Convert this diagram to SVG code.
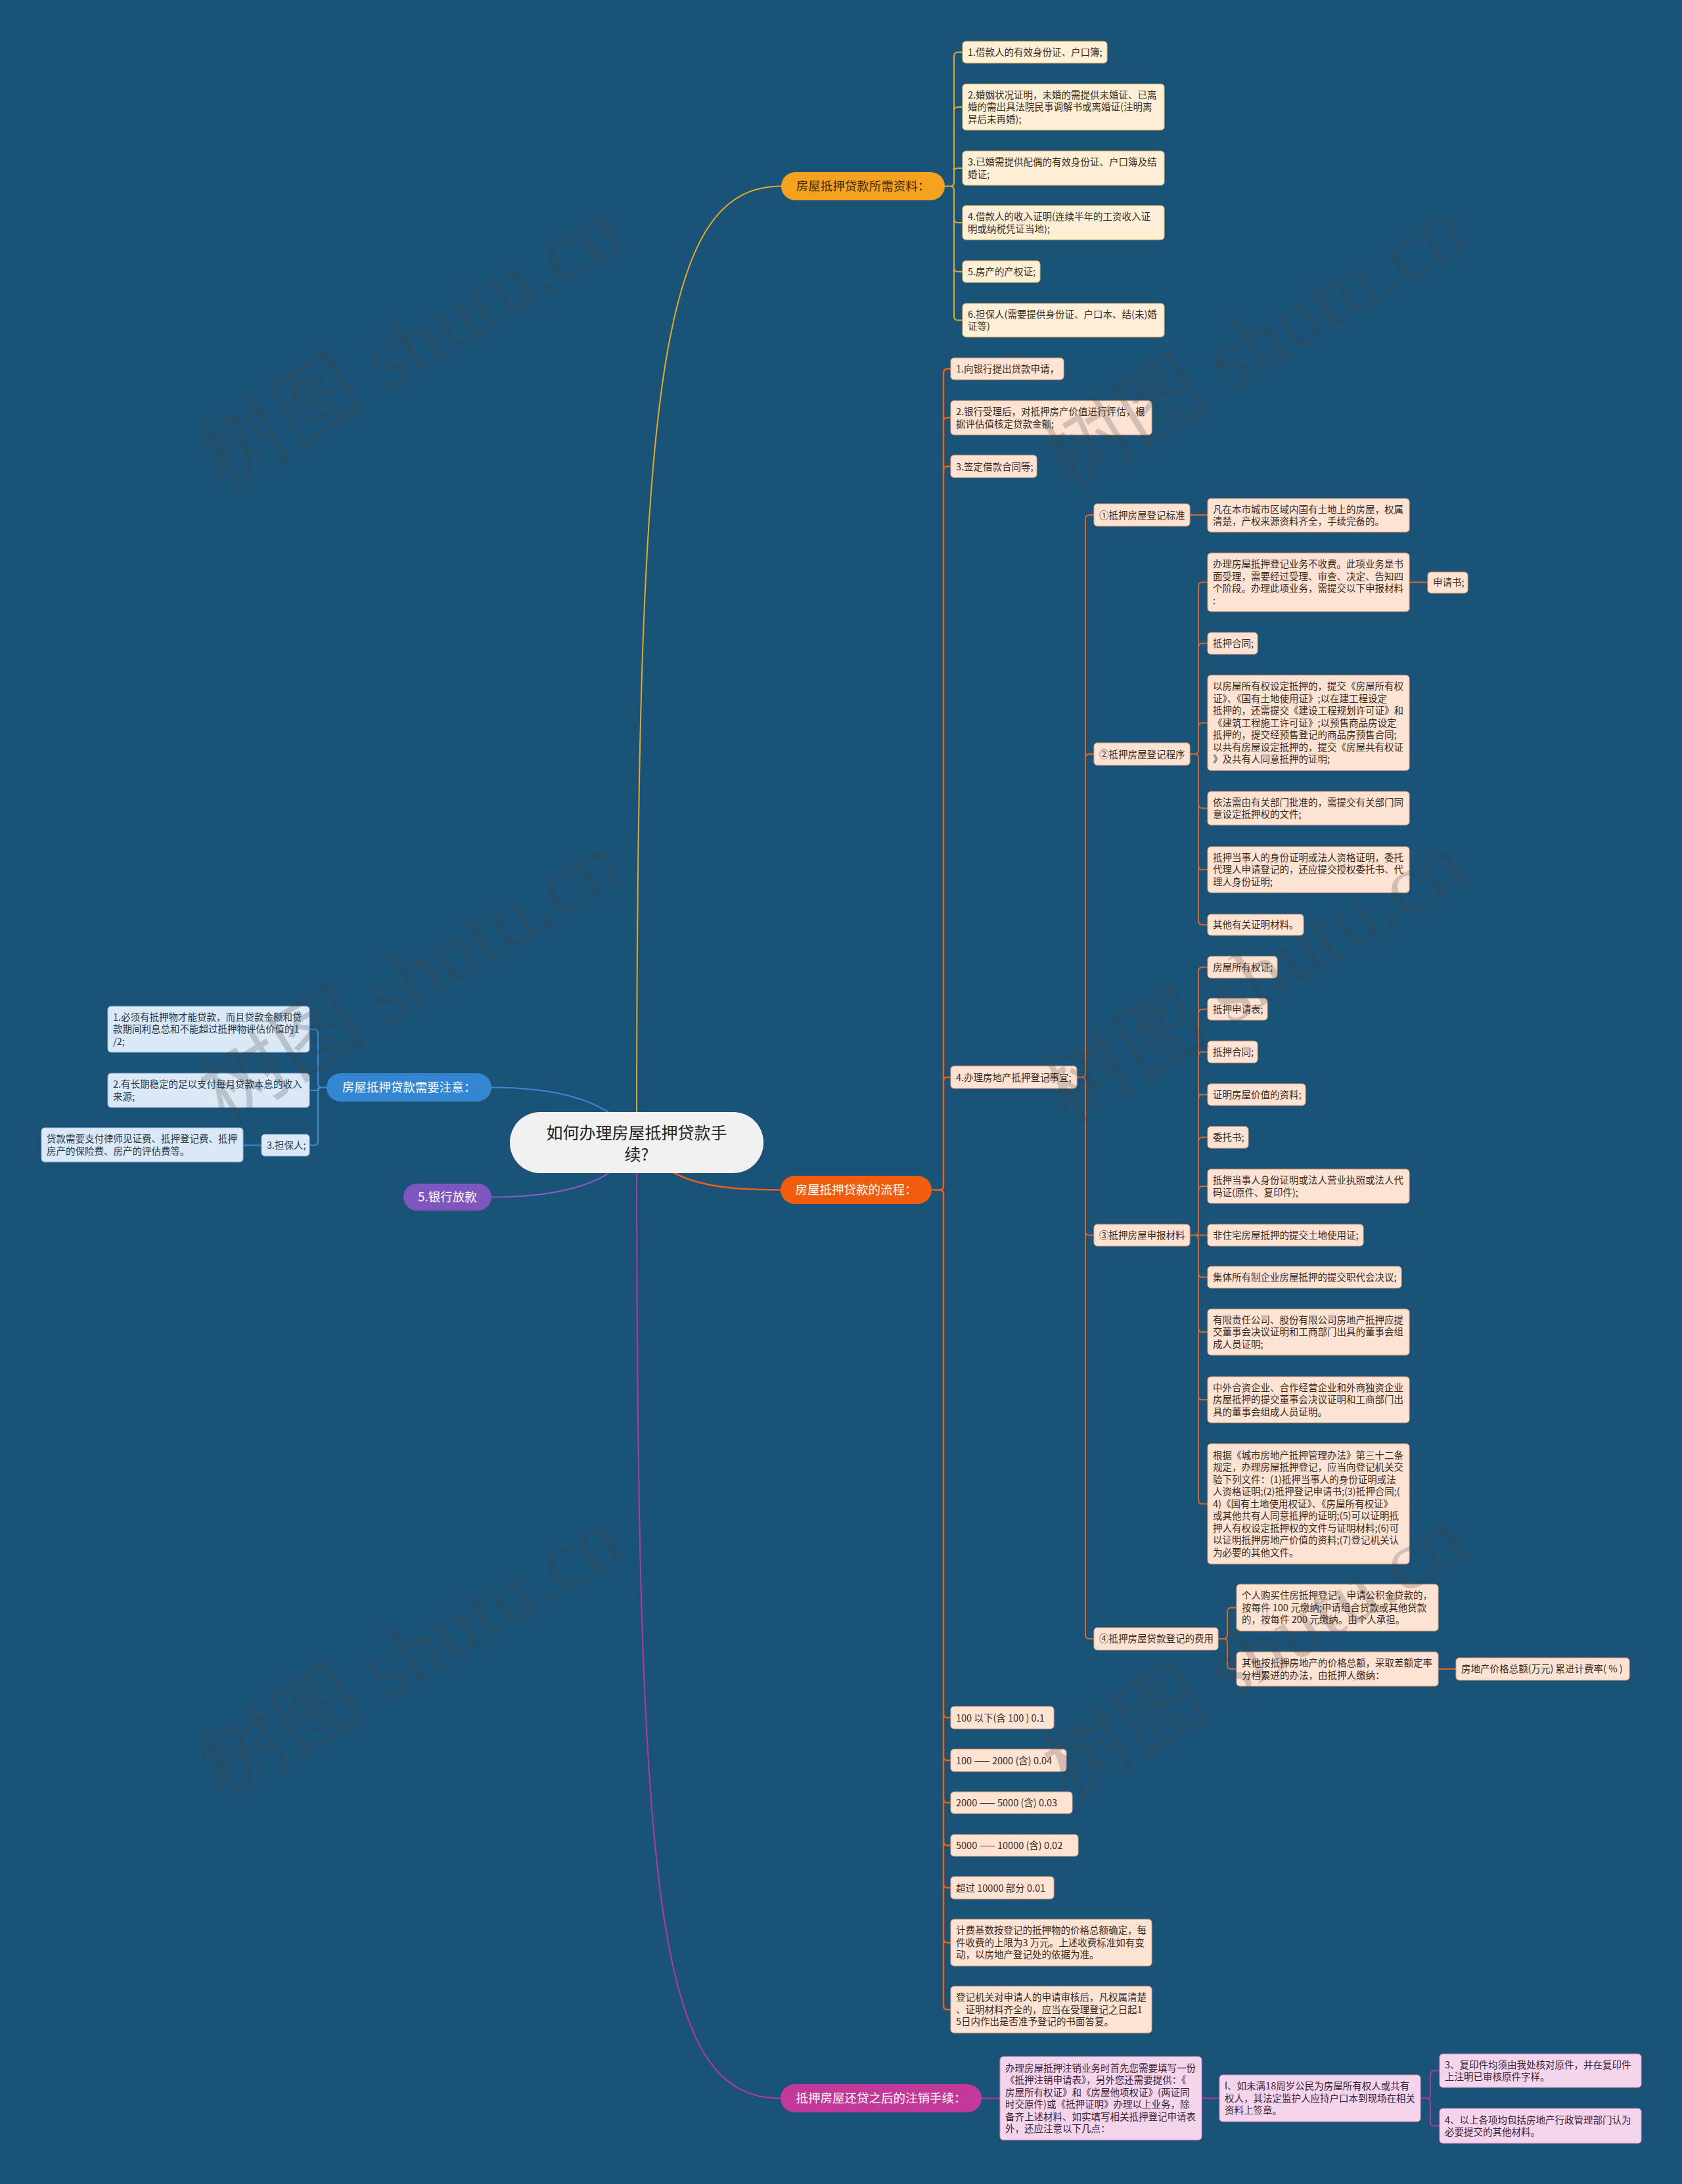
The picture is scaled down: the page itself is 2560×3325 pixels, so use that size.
<svg xmlns="http://www.w3.org/2000/svg" width="2560" height="3325" viewBox="0 0 2560 3325">
<style>
text{font-family:"Noto Sans CJK SC","Noto Sans",sans-serif}
.t{font-size:14.5px;fill:#3b2a1e}
.tb{font-size:14.5px;fill:#22384d}
.tp{font-size:14.5px;fill:#3a2238}
.n1{fill:#fdf0d6;stroke:#e8b95e;stroke-width:1}
.n2{fill:#fde3d3;stroke:#e8a27a;stroke-width:1}
.n3{fill:#dbe8f5;stroke:#8db5dc;stroke-width:1}
.n5{fill:#f5d5ec;stroke:#d48cc2;stroke-width:1}
.br{font-size:18.5px;fill:#ffffff;text-anchor:middle}
.c1{fill:none;stroke:#e2a92c;stroke-width:2}
.c2{fill:none;stroke:#ee6014;stroke-width:2.5}
.c2b{fill:none;stroke:#d9672b;stroke-width:2}
.c3{fill:none;stroke:#3a8ad6;stroke-width:2}
.c4{fill:none;stroke:#8a5cc8;stroke-width:2}
.c5{fill:none;stroke:#b5399a;stroke-width:2}
.wm{font-family:"Liberation Serif","Noto Sans CJK SC",serif;font-size:128px;fill:#404040;opacity:.22;text-anchor:middle}
</style>
<rect x="0" y="0" width="2560" height="3325" fill="#1a5377"/>
<g id="connectors">
<path class="c1" d="M969 1740C969 600 1000 283.5 1189 283.5"/>
<path class="c5" d="M969 1740C969 2900 1000 3194.5 1188 3194.5"/>
<path class="c2" d="M969 1740C1020 1800 1080 1811.5 1188 1811.5"/>
<path class="c3" d="M748 1655.5C860 1655.5 930 1680 965 1730"/>
<path class="c4" d="M748 1822.5C860 1822.5 930 1800 965 1750"/>
<path class="c1" d="M1438 283.5H1446Q1452 283.5 1452 277.5V85.5Q1452 79.5 1458 79.5H1465M1438 283.5H1446Q1452 283.5 1452 277.5V169Q1452 163 1458 163H1465M1438 283.5H1446Q1452 283.5 1452 277.5V262Q1452 256 1458 256H1465M1438 283.5H1446Q1452 283.5 1452 289.5V333Q1452 339 1458 339H1465M1438 283.5H1446Q1452 283.5 1452 289.5V407.5Q1452 413.5 1458 413.5H1465M1438 283.5H1446Q1452 283.5 1452 289.5V481.5Q1452 487.5 1458 487.5H1465"/>
<path class="c2" d="M1418 1811.5H1430Q1436 1811.5 1436 1805.5V567.5Q1436 561.5 1442 561.5H1447M1418 1811.5H1430Q1436 1811.5 1436 1805.5V642Q1436 636 1442 636H1447M1418 1811.5H1430Q1436 1811.5 1436 1805.5V716Q1436 710 1442 710H1447M1418 1811.5H1430Q1436 1811.5 1436 1805.5V1646Q1436 1640 1442 1640H1447M1418 1811.5H1430Q1436 1811.5 1436 1817.5V2609Q1436 2615 1442 2615H1447M1418 1811.5H1430Q1436 1811.5 1436 1817.5V2674Q1436 2680 1442 2680H1447M1418 1811.5H1430Q1436 1811.5 1436 1817.5V2738.5Q1436 2744.5 1442 2744.5H1447M1418 1811.5H1430Q1436 1811.5 1436 1817.5V2803.5Q1436 2809.5 1442 2809.5H1447M1418 1811.5H1430Q1436 1811.5 1436 1817.5V2868Q1436 2874 1442 2874H1447M1418 1811.5H1430Q1436 1811.5 1436 1817.5V2951.5Q1436 2957.5 1442 2957.5H1447M1418 1811.5H1430Q1436 1811.5 1436 1817.5V3053.5Q1436 3059.5 1442 3059.5H1447"/>
<path class="c2b" d="M1639 1640H1646Q1652 1640 1652 1634V790Q1652 784 1658 784H1665M1639 1640H1646Q1652 1640 1652 1634V1154Q1652 1148 1658 1148H1665M1639 1640H1646Q1652 1640 1652 1646V1874.5Q1652 1880.5 1658 1880.5H1665M1639 1640H1646Q1652 1640 1652 1646V2489Q1652 2495 1658 2495H1665"/>
<path class="c2b" d="M1811 1148H1818Q1824 1148 1824 1142V892.5Q1824 886.5 1830 886.5H1838M1811 1148H1818Q1824 1148 1824 1142V985.5Q1824 979.5 1830 979.5H1838M1811 1148H1818Q1824 1148 1824 1142V1106.5Q1824 1100.5 1830 1100.5H1838M1811 1148H1818Q1824 1148 1824 1154V1224.5Q1824 1230.5 1830 1230.5H1838M1811 1148H1818Q1824 1148 1824 1154V1318Q1824 1324 1830 1324H1838M1811 1148H1818Q1824 1148 1824 1154V1402Q1824 1408 1830 1408H1838"/>
<path class="c2b" d="M1811 1880.5H1818Q1824 1880.5 1824 1874.5V1478.5Q1824 1472.5 1830 1472.5H1838M1811 1880.5H1818Q1824 1880.5 1824 1874.5V1542.5Q1824 1536.5 1830 1536.5H1838M1811 1880.5H1818Q1824 1880.5 1824 1874.5V1607.5Q1824 1601.5 1830 1601.5H1838M1811 1880.5H1818Q1824 1880.5 1824 1874.5V1672.5Q1824 1666.5 1830 1666.5H1838M1811 1880.5H1818Q1824 1880.5 1824 1874.5V1737.5Q1824 1731.5 1830 1731.5H1838M1811 1880.5H1818Q1824 1880.5 1824 1874.5V1812Q1824 1806 1830 1806H1838M1811 1880.5H1838M1811 1880.5H1818Q1824 1880.5 1824 1886.5V1938.5Q1824 1944.5 1830 1944.5H1838M1811 1880.5H1818Q1824 1880.5 1824 1886.5V2022Q1824 2028 1830 2028H1838M1811 1880.5H1818Q1824 1880.5 1824 1886.5V2125Q1824 2131 1830 2131H1838M1811 1880.5H1818Q1824 1880.5 1824 1886.5V2283.5Q1824 2289.5 1830 2289.5H1838"/>
<path class="c2b" d="M1854 2495H1862Q1868 2495 1868 2489V2453.5Q1868 2447.5 1874 2447.5H1882M1854 2495H1862Q1868 2495 1868 2501V2535Q1868 2541 1874 2541H1882"/>
<path class="c2b" d="M1811 784H1838M2145 886.5H2173M2189 2541H2216"/>
<path class="c3" d="M497 1655.5H490Q484 1655.5 484 1649.5V1573Q484 1567 478 1567H471M497 1655.5H486Q484 1655.5 484 1657.5V1658Q484 1660 482 1660H471M497 1655.5H490Q484 1655.5 484 1661.5V1737.5Q484 1743.5 478 1743.5H471M398 1743.5H370"/>
<path class="c5" d="M1494 3194.5H1522M1829 3194.5H1856M2162 3194.5H2171Q2177 3194.5 2177 3188.5V3158.5Q2177 3152.5 2183 3152.5H2191M2162 3194.5H2171Q2177 3194.5 2177 3200.5V3230.5Q2177 3236.5 2183 3236.5H2191"/>
</g>

<g id="root">
<rect x="776" y="1693" width="386" height="93" rx="46" fill="#f1f1f1"/>
<text x="969" y="1734" font-size="25" fill="#222" text-anchor="middle"><tspan x="969">如何办理房屋抵押贷款手</tspan><tspan x="969" dy="33">续?</tspan></text>
</g>

<g id="branch-materials">
<rect x="1189" y="262" width="249" height="43" rx="21.5" fill="#f5a31f"/>
<text class="br" x="1313.5" y="290" style="fill:#3b2a10">房屋抵押贷款所需资料：</text>
</g>
<g id="m1"><rect class="n1" x="1465" y="63" width="220" height="33" rx="5"/><text class="t" x="1473" y="84.7">1.借款人的有效身份证、户口簿;</text></g>
<g id="m2"><rect class="n1" x="1465" y="128" width="307" height="70" rx="5"/><text class="t" x="1473" y="149.7"><tspan x="1473">2.婚姻状况证明，未婚的需提供未婚证、已离</tspan><tspan x="1473" dy="18.5">婚的需出具法院民事调解书或离婚证(注明离</tspan><tspan x="1473" dy="18.5">异后未再婚);</tspan></text></g>
<g id="m3"><rect class="n1" x="1465" y="230" width="307" height="52" rx="5"/><text class="t" x="1473" y="252"><tspan x="1473">3.已婚需提供配偶的有效身份证、户口簿及结</tspan><tspan x="1473" dy="18.5">婚证;</tspan></text></g>
<g id="m4"><rect class="n1" x="1465" y="313" width="307" height="52" rx="5"/><text class="t" x="1473" y="335"><tspan x="1473">4.借款人的收入证明(连续半年的工资收入证</tspan><tspan x="1473" dy="18.5">明或纳税凭证当地);</tspan></text></g>
<g id="m5"><rect class="n1" x="1465" y="397" width="118" height="33" rx="5"/><text class="t" x="1473" y="418.7">5.房产的产权证;</text></g>
<g id="m6"><rect class="n1" x="1465" y="462" width="307" height="51" rx="5"/><text class="t" x="1473" y="483.5"><tspan x="1473">6.担保人(需要提供身份证、户口本、结(未)婚</tspan><tspan x="1473" dy="18.5">证等)</tspan></text></g>

<g id="branch-process">
<rect x="1188" y="1790" width="230" height="43" rx="21.5" fill="#f25c0d"/>
<text class="br" x="1303" y="1818">房屋抵押贷款的流程：</text>
</g>
<g id="p1"><rect class="n2" x="1447" y="545" width="172" height="33" rx="5"/><text class="t" x="1455" y="566.7">1.向银行提出贷款申请，</text></g>
<g id="p2"><rect class="n2" x="1447" y="610" width="306" height="52" rx="5"/><text class="t" x="1455" y="632"><tspan x="1455">2.银行受理后，对抵押房产价值进行评估，根</tspan><tspan x="1455" dy="18.5">据评估值核定贷款金额;</tspan></text></g>
<g id="p3"><rect class="n2" x="1447" y="693" width="131" height="34" rx="5"/><text class="t" x="1455" y="715.7">3.签定借款合同等;</text></g>
<g id="p4"><rect class="n2" x="1447" y="1623" width="192" height="34" rx="5"/><text class="t" x="1455" y="1645.7">4.办理房地产抵押登记事宜;</text></g>
<g id="f1"><rect class="n2" x="1447" y="2598" width="157" height="34" rx="5"/><text class="t" x="1455" y="2620.7">100 以下(含 100 ) 0.1</text></g>
<g id="f2"><rect class="n2" x="1447" y="2663" width="176" height="34" rx="5"/><text class="t" x="1455" y="2685.7">100 —— 2000 (含) 0.04</text></g>
<g id="f3"><rect class="n2" x="1447" y="2728" width="185" height="33" rx="5"/><text class="t" x="1455" y="2749.7">2000 —— 5000 (含) 0.03</text></g>
<g id="f4"><rect class="n2" x="1447" y="2793" width="194" height="33" rx="5"/><text class="t" x="1455" y="2814.7">5000 —— 10000 (含) 0.02</text></g>
<g id="f5"><rect class="n2" x="1447" y="2857" width="157" height="34" rx="5"/><text class="t" x="1455" y="2879.7">超过 10000 部分 0.01</text></g>
<g id="k1"><rect class="n2" x="1447" y="2922" width="306" height="71" rx="5"/><text class="t" x="1455" y="2944.2"><tspan x="1455">计费基数按登记的抵押物的价格总额确定，每</tspan><tspan x="1455" dy="18.5">件收费的上限为3 万元。上述收费标准如有变</tspan><tspan x="1455" dy="18.5">动，以房地产登记处的依据为准。</tspan></text></g>
<g id="k2"><rect class="n2" x="1447" y="3024" width="306" height="71" rx="5"/><text class="t" x="1455" y="3046.2"><tspan x="1455">登记机关对申请人的申请审核后，凡权属清楚</tspan><tspan x="1455" dy="18.5">、证明材料齐全的，应当在受理登记之日起1</tspan><tspan x="1455" dy="18.5">5日内作出是否准予登记的书面答复。</tspan></text></g>

<g id="s1"><rect class="n2" x="1665" y="767" width="146" height="34" rx="5"/><text class="t" x="1673" y="789.7">①抵押房屋登记标准</text></g>
<g id="s1a"><rect class="n2" x="1838" y="759" width="307" height="51" rx="5"/><text class="t" x="1846" y="780.5"><tspan x="1846">凡在本市城市区域内国有土地上的房屋，权属</tspan><tspan x="1846" dy="18.5">清楚，产权来源资料齐全，手续完备的。</tspan></text></g>
<g id="s2"><rect class="n2" x="1665" y="1131" width="146" height="34" rx="5"/><text class="t" x="1673" y="1153.7">②抵押房屋登记程序</text></g>
<g id="s2a"><rect class="n2" x="1838" y="842" width="307" height="89" rx="5"/><text class="t" x="1846" y="864"><tspan x="1846">办理房屋抵押登记业务不收费。此项业务是书</tspan><tspan x="1846" dy="18.5">面受理，需要经过受理、审查、决定、告知四</tspan><tspan x="1846" dy="18.5">个阶段。办理此项业务，需提交以下申报材料</tspan><tspan x="1846" dy="18.5">:</tspan></text></g>
<g id="s2a1"><rect class="n2" x="2173" y="871" width="61" height="32" rx="5"/><text class="t" x="2181" y="892.2">申请书;</text></g>
<g id="s2b"><rect class="n2" x="1838" y="963" width="76" height="33" rx="5"/><text class="t" x="1846" y="984.7">抵押合同;</text></g>
<g id="s2c"><rect class="n2" x="1838" y="1028" width="307" height="145" rx="5"/><text class="t" x="1846" y="1050.2"><tspan x="1846">以房屋所有权设定抵押的，提交《房屋所有权</tspan><tspan x="1846" dy="18.5">证》、《国有土地使用证》;以在建工程设定</tspan><tspan x="1846" dy="18.5">抵押的，还需提交《建设工程规划许可证》和</tspan><tspan x="1846" dy="18.5">《建筑工程施工许可证》;以预售商品房设定</tspan><tspan x="1846" dy="18.5">抵押的，提交经预售登记的商品房预售合同;</tspan><tspan x="1846" dy="18.5">以共有房屋设定抵押的，提交《房屋共有权证</tspan><tspan x="1846" dy="18.5">》及共有人同意抵押的证明;</tspan></text></g>
<g id="s2d"><rect class="n2" x="1838" y="1205" width="307" height="51" rx="5"/><text class="t" x="1846" y="1226.5"><tspan x="1846">依法需由有关部门批准的，需提交有关部门同</tspan><tspan x="1846" dy="18.5">意设定抵押权的文件;</tspan></text></g>
<g id="s2e"><rect class="n2" x="1838" y="1289" width="307" height="70" rx="5"/><text class="t" x="1846" y="1310.7"><tspan x="1846">抵押当事人的身份证明或法人资格证明，委托</tspan><tspan x="1846" dy="18.5">代理人申请登记的，还应提交授权委托书、代</tspan><tspan x="1846" dy="18.5">理人身份证明;</tspan></text></g>
<g id="s2f"><rect class="n2" x="1838" y="1392" width="146" height="32" rx="5"/><text class="t" x="1846" y="1413.2">其他有关证明材料。</text></g>

<g id="s3"><rect class="n2" x="1665" y="1864" width="146" height="33" rx="5"/><text class="t" x="1673" y="1885.7">③抵押房屋申报材料</text></g>
<g id="s3a"><rect class="n2" x="1838" y="1456" width="106" height="33" rx="5"/><text class="t" x="1846" y="1477.7">房屋所有权证;</text></g>
<g id="s3b"><rect class="n2" x="1838" y="1520" width="91" height="33" rx="5"/><text class="t" x="1846" y="1541.7">抵押申请表;</text></g>
<g id="s3c"><rect class="n2" x="1838" y="1585" width="76" height="33" rx="5"/><text class="t" x="1846" y="1606.7">抵押合同;</text></g>
<g id="s3d"><rect class="n2" x="1838" y="1650" width="149" height="33" rx="5"/><text class="t" x="1846" y="1671.7">证明房屋价值的资料;</text></g>
<g id="s3e"><rect class="n2" x="1838" y="1715" width="62" height="33" rx="5"/><text class="t" x="1846" y="1736.7">委托书;</text></g>
<g id="s3f"><rect class="n2" x="1838" y="1780" width="307" height="52" rx="5"/><text class="t" x="1846" y="1802"><tspan x="1846">抵押当事人身份证明或法人营业执照或法人代</tspan><tspan x="1846" dy="18.5">码证(原件、复印件);</tspan></text></g>
<g id="s3g"><rect class="n2" x="1838" y="1864" width="237" height="33" rx="5"/><text class="t" x="1846" y="1885.7">非住宅房屋抵押的提交土地使用证;</text></g>
<g id="s3h"><rect class="n2" x="1838" y="1928" width="295" height="33" rx="5"/><text class="t" x="1846" y="1949.7">集体所有制企业房屋抵押的提交职代会决议;</text></g>
<g id="s3i"><rect class="n2" x="1838" y="1993" width="307" height="70" rx="5"/><text class="t" x="1846" y="2014.7"><tspan x="1846">有限责任公司、股份有限公司房地产抵押应提</tspan><tspan x="1846" dy="18.5">交董事会决议证明和工商部门出具的董事会组</tspan><tspan x="1846" dy="18.5">成人员证明;</tspan></text></g>
<g id="s3j"><rect class="n2" x="1838" y="2096" width="307" height="70" rx="5"/><text class="t" x="1846" y="2117.7"><tspan x="1846">中外合资企业、合作经营企业和外商独资企业</tspan><tspan x="1846" dy="18.5">房屋抵押的提交董事会决议证明和工商部门出</tspan><tspan x="1846" dy="18.5">具的董事会组成人员证明。</tspan></text></g>
<g id="s3k"><rect class="n2" x="1838" y="2198" width="307" height="183" rx="5"/><text class="t" x="1846" y="2220.7"><tspan x="1846">根据《城市房地产抵押管理办法》第三十二条</tspan><tspan x="1846" dy="18.5">规定，办理房屋抵押登记，应当向登记机关交</tspan><tspan x="1846" dy="18.5">验下列文件：(1)抵押当事人的身份证明或法</tspan><tspan x="1846" dy="18.5">人资格证明;(2)抵押登记申请书;(3)抵押合同;(</tspan><tspan x="1846" dy="18.5">4)《国有土地使用权证》、《房屋所有权证》</tspan><tspan x="1846" dy="18.5">或其他共有人同意抵押的证明;(5)可以证明抵</tspan><tspan x="1846" dy="18.5">押人有权设定抵押权的文件与证明材料;(6)可</tspan><tspan x="1846" dy="18.5">以证明抵押房地产价值的资料;(7)登记机关认</tspan><tspan x="1846" dy="18.5">为必要的其他文件。</tspan></text></g>

<g id="s4"><rect class="n2" x="1665" y="2478" width="189" height="34" rx="5"/><text class="t" x="1673" y="2499.7">④抵押房屋贷款登记的费用</text></g>
<g id="s4a"><rect class="n2" x="1882" y="2412" width="307" height="71" rx="5"/><text class="t" x="1890" y="2434.2"><tspan x="1890">个人购买住房抵押登记，申请公积金贷款的，</tspan><tspan x="1890" dy="18.5">按每件 100 元缴纳;申请组合贷款或其他贷款</tspan><tspan x="1890" dy="18.5">的，按每件 200 元缴纳。由个人承担。</tspan></text></g>
<g id="s4b"><rect class="n2" x="1882" y="2515" width="307" height="52" rx="5"/><text class="t" x="1890" y="2537"><tspan x="1890">其他按抵押房地产的价格总额，采取差额定率</tspan><tspan x="1890" dy="18.5">分档累进的办法，由抵押人缴纳：</tspan></text></g>
<g id="s4b1"><rect class="n2" x="2216" y="2524" width="264" height="34" rx="5"/><text class="t" x="2224" y="2545.7">房地产价格总额(万元) 累进计费率( % )</text></g>

<g id="branch-notice">
<rect x="497" y="1634" width="251" height="43" rx="21.5" fill="#3586d2"/>
<text class="br" x="622.5" y="1662">房屋抵押贷款需要注意：</text>
</g>
<g id="a1"><rect class="n3" x="164" y="1532" width="307" height="70" rx="5"/><text class="tb" x="172" y="1553.7"><tspan x="172">1.必须有抵押物才能贷款，而且贷款金额和贷</tspan><tspan x="172" dy="18.5">款期间利息总和不能超过抵押物评估价值的1</tspan><tspan x="172" dy="18.5">/2;</tspan></text></g>
<g id="a2"><rect class="n3" x="164" y="1634" width="307" height="52" rx="5"/><text class="tb" x="172" y="1656"><tspan x="172">2.有长期稳定的足以支付每月贷款本息的收入</tspan><tspan x="172" dy="18.5">来源;</tspan></text></g>
<g id="a3"><rect class="n3" x="398" y="1727" width="73" height="33" rx="5"/><text class="tb" x="406" y="1748.7">3.担保人;</text></g>
<g id="a3a"><rect class="n3" x="63" y="1717" width="307" height="52" rx="5"/><text class="tb" x="71" y="1739"><tspan x="71">贷款需要支付律师见证费、抵押登记费、抵押</tspan><tspan x="71" dy="18.5">房产的保险费、房产的评估费等。</tspan></text></g>

<g id="branch-bank">
<rect x="614" y="1802" width="134" height="41" rx="20.5" fill="#7f55bf"/>
<text class="br" x="681" y="1829">5.银行放款</text>
</g>

<g id="branch-cancel">
<rect x="1188" y="3173" width="306" height="43" rx="21.5" fill="#c2389b"/>
<text class="br" x="1341" y="3201">抵押房屋还贷之后的注销手续：</text>
</g>
<g id="z1"><rect class="n5" x="1522" y="3131" width="307" height="127" rx="5"/><text class="tp" x="1530" y="3153.5"><tspan x="1530">办理房屋抵押注销业务时首先您需要填写一份</tspan><tspan x="1530" dy="18.5">《抵押注销申请表》，另外您还需要提供：《</tspan><tspan x="1530" dy="18.5">房屋所有权证》和《房屋他项权证》(两证同</tspan><tspan x="1530" dy="18.5">时交原件)或《抵押证明》办理以上业务，除</tspan><tspan x="1530" dy="18.5">备齐上述材料、如实填写相关抵押登记申请表</tspan><tspan x="1530" dy="18.5">外，还应注意以下几点：</tspan></text></g>
<g id="z2"><rect class="n5" x="1856" y="3159" width="306" height="71" rx="5"/><text class="tp" x="1864" y="3181.2"><tspan x="1864">l、如未满18周岁公民为房屋所有权人或共有</tspan><tspan x="1864" dy="18.5">权人，其法定监护人应持户口本到现场在相关</tspan><tspan x="1864" dy="18.5">资料上签章。</tspan></text></g>
<g id="z3"><rect class="n5" x="2191" y="3127" width="307" height="51" rx="5"/><text class="tp" x="2199" y="3148.5"><tspan x="2199">3、复印件均须由我处核对原件，并在复印件</tspan><tspan x="2199" dy="18.5">上注明已审核原件字样。</tspan></text></g>
<g id="z4"><rect class="n5" x="2191" y="3210" width="307" height="53" rx="5"/><text class="tp" x="2199" y="3232.5"><tspan x="2199">4、以上各项均包括房地产行政管理部门认为</tspan><tspan x="2199" dy="18.5">必要提交的其他材料。</tspan></text></g>

<g id="watermarks">
<text class="wm" transform="translate(648 560) rotate(-31.5)">树图 shutu.cn</text>
<text class="wm" transform="translate(1932 560) rotate(-31.5)">树图 shutu.cn</text>
<text class="wm" transform="translate(648 1525) rotate(-31.5)">树图 shutu.cn</text>
<text class="wm" transform="translate(1932 1525) rotate(-31.5)">树图 shutu.cn</text>
<text class="wm" transform="translate(648 2554) rotate(-31.5)">树图 shutu.cn</text>
<text class="wm" transform="translate(1932 2554) rotate(-31.5)">树图 shutu.cn</text>
</g>
</svg>
